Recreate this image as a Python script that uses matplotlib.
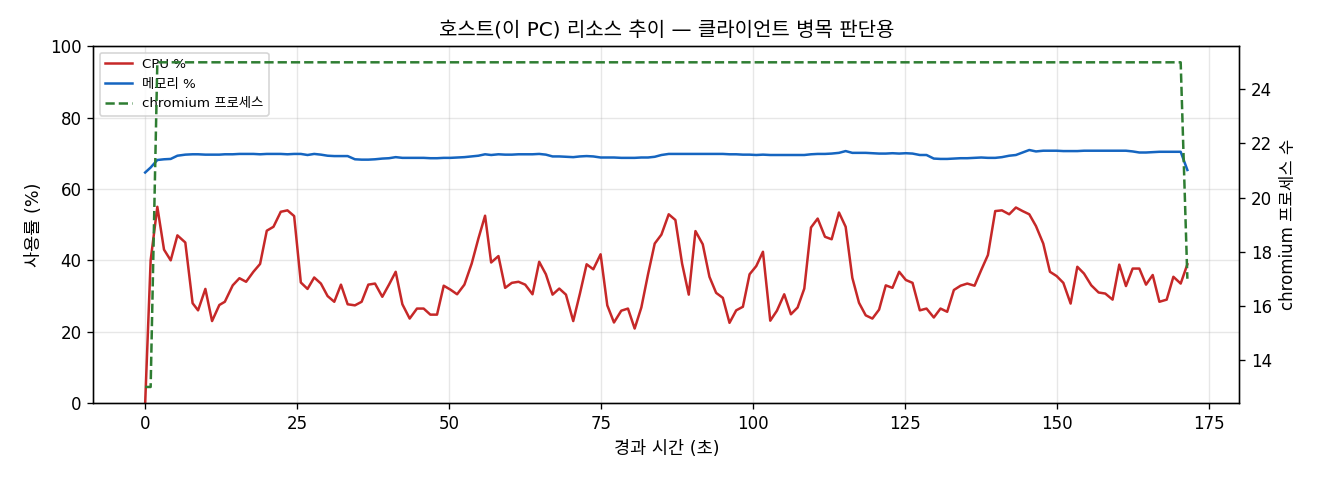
import matplotlib
matplotlib.use("Agg")
import matplotlib.pyplot as plt

plt.rcParams['font.family'] = ['DejaVu Sans', 'Noto Sans CJK KR']

# elapsed time (s)
elapsed = [0.0, 0.9, 2.0, 3.1, 4.2, 5.3, 6.6, 7.8, 8.7, 9.9,
           11.0, 12.2, 13.1, 14.4, 15.5, 16.6, 17.8, 18.9, 20.0, 21.1,
           22.3, 23.4, 24.5, 25.6, 26.7, 27.8, 28.9, 30.0, 31.1, 32.2,
           33.3, 34.5, 35.6, 36.7, 37.8, 39.0, 40.1, 41.2, 42.3, 43.5,
           44.7, 45.8, 46.9, 48.0, 49.1, 50.2, 51.3, 52.5, 53.7, 54.8,
           55.9, 56.9, 58.1, 59.2, 60.3, 61.4, 62.5, 63.7, 64.8, 65.9,
           67.0, 68.1, 69.2, 70.4, 71.5, 72.6, 73.7, 74.9, 76.0, 77.1,
           78.3, 79.4, 80.5, 81.6, 82.7, 83.8, 84.9, 86.1, 87.2, 88.3,
           89.4, 90.5, 91.7, 92.8, 93.9, 95.0, 96.1, 97.2, 98.3, 99.4,
           100.5, 101.6, 102.8, 103.9, 105.1, 106.2, 107.3, 108.4, 109.5, 110.6,
           111.8, 112.9, 114.1, 115.2, 116.3, 117.4, 118.5, 119.6, 120.7, 121.8,
           122.9, 124.0, 125.1, 126.2, 127.4, 128.5, 129.7, 130.8, 131.9, 133.0,
           134.1, 135.2, 136.4, 137.5, 138.6, 139.8, 140.9, 142.1, 143.2, 144.3,
           145.4, 146.5, 147.7, 148.8, 149.9, 151.0, 152.2, 153.3, 154.4, 155.6,
           156.8, 157.9, 159.1, 160.2, 161.3, 162.4, 163.5, 164.6, 165.7, 166.8,
           168.0, 169.1, 170.3, 171.4]

cpu = [0, 40, 55, 43, 40, 47, 45, 28, 26, 32,
       23, 27.5, 28.4, 33, 35, 34, 36.8, 39, 48.3, 49.4,
       53.6, 54, 52.4, 33.8, 32, 35.2, 33.5, 30, 28.4, 33.2,
       27.7, 27.4, 28.4, 33.2, 33.5, 29.8, 33.2, 36.8, 27.7, 23.7,
       26.5, 26.5, 24.8, 24.8, 32.9, 31.8, 30.5, 33.2, 39.1, 46.1,
       52.5, 39.4, 41.2, 32.3, 33.7, 34, 33.2, 30.5, 39.6, 36.1,
       30.4, 32.1, 30.4, 23, 30.7, 38.9, 37.5, 41.7, 27.4, 22.6,
       25.9, 26.5, 20.9, 26.8, 36.1, 44.7, 47.2, 52.9, 51.3, 39.1,
       30.4, 48.2, 44.5, 35.4, 30.9, 29.5, 22.5, 26, 27, 36.1,
       38.4, 42.4, 23.1, 25.9, 30.5, 24.9, 26.8, 32.1, 49.2, 51.7,
       46.6, 45.9, 53.4, 49.4, 35.1, 28.1, 24.6, 23.7, 26.2, 33,
       32.3, 36.8, 34.5, 33.7, 26, 26.5, 24, 26.5, 25.6, 31.7,
       32.9, 33.5, 32.9, 37.3, 41.5, 53.8, 54, 52.9, 54.8, 53.8,
       52.9, 49.6, 44.7, 36.8, 35.6, 33.7, 27.9, 38.2, 36.3, 33,
       31, 30.7, 29, 38.8, 32.8, 37.7, 37.7, 33.2, 35.9, 28.4,
       29, 35.4, 33.5, 38.9]

mem = [64.6, 66.0, 68.1, 68.3, 68.4, 69.3, 69.6, 69.7, 69.7, 69.6,
       69.6, 69.6, 69.7, 69.7, 69.8, 69.8, 69.8, 69.7, 69.8, 69.8,
       69.8, 69.7, 69.8, 69.8, 69.5, 69.8, 69.6, 69.3, 69.2, 69.2,
       69.2, 68.3, 68.2, 68.2, 68.3, 68.5, 68.6, 68.9, 68.7, 68.7,
       68.7, 68.7, 68.6, 68.6, 68.7, 68.7, 68.8, 68.9, 69.1, 69.3,
       69.7, 69.5, 69.7, 69.6, 69.6, 69.7, 69.7, 69.7, 69.8, 69.6,
       69.1, 69.1, 69.0, 68.9, 69.1, 69.2, 69.1, 68.8, 68.8, 68.8,
       68.7, 68.7, 68.7, 68.8, 68.8, 69.0, 69.5, 69.8, 69.8, 69.8,
       69.8, 69.8, 69.8, 69.8, 69.8, 69.8, 69.7, 69.7, 69.6, 69.6,
       69.5, 69.6, 69.5, 69.5, 69.5, 69.5, 69.5, 69.5, 69.7, 69.8,
       69.8, 69.9, 70.1, 70.6, 70.1, 70.1, 70.1, 70.0, 69.9, 69.9,
       70.0, 69.9, 70.0, 69.9, 69.5, 69.5, 68.5, 68.4, 68.4, 68.5,
       68.6, 68.6, 68.7, 68.8, 68.7, 68.7, 68.9, 69.3, 69.5, 70.2,
       70.9, 70.5, 70.7, 70.7, 70.7, 70.6, 70.6, 70.6, 70.7, 70.7,
       70.7, 70.7, 70.7, 70.7, 70.7, 70.5, 70.2, 70.2, 70.3, 70.4,
       70.4, 70.4, 70.4, 65.3]

# chromium process count as (value, number of samples) runs
chrom_runs = [(13, 2), (25, 151), (17, 1)]
chrom = []
for v, n in chrom_runs:
    chrom += [v] * n

fig, ax1 = plt.subplots(figsize=(11, 4), dpi=120)
fig.subplots_adjust(left=0.0705, right=0.939, top=0.904, bottom=0.16)

l1, = ax1.plot(elapsed, cpu, color='#c62828', lw=1.5, label='CPU %')
l2, = ax1.plot(elapsed, mem, color='#1565c0', lw=1.5, label='메모리 %')
ax1.set_ylim(0, 100)
ax1.set_xlabel('경과 시간 (초)', fontsize=10.5)
ax1.set_ylabel('사용률 (%)', fontsize=10.5)
ax1.grid(True, alpha=0.3)

ax2 = ax1.twinx()
l3, = ax2.plot(elapsed, chrom, color='#2e7d32', lw=1.5, ls='--', label='chromium 프로세스')
ax2.set_ylabel('chromium 프로세스 수')

ax1.legend(handles=[l1, l2, l3], loc='upper left', fontsize=8)
ax1.set_title('호스트(이 PC) 리소스 추이 — 클라이언트 병목 판단용', fontsize=12)

plt.savefig('out.png')
